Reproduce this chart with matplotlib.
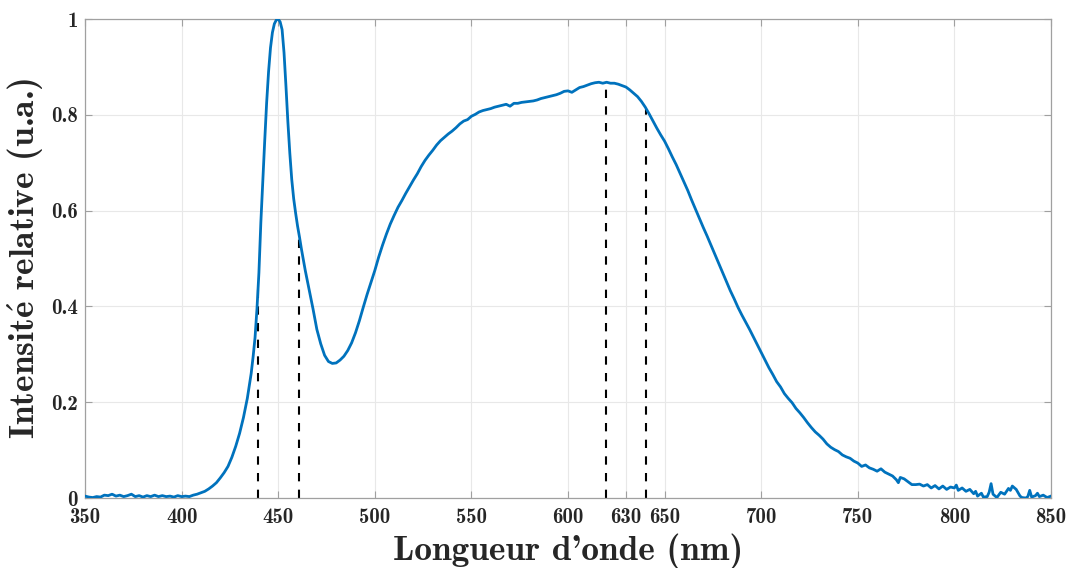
import numpy as np
import matplotlib
matplotlib.use("Agg")
import matplotlib.pyplot as plt

wavelength = [350, 352, 354, 356, 358, 360, 362, 364, 366, 368, 370, 372, 374, 376, 378, 380,
              382, 384, 386, 388, 390, 392, 394, 396, 398, 400, 402, 404, 406, 408, 410, 412,
              414, 416, 418, 420, 422, 424, 426, 428, 430, 432, 434, 436, 437, 438, 439, 440,
              441, 442, 443, 444, 445, 446, 447, 448, 449, 450, 451, 452, 453, 454, 455, 456,
              457, 458, 459, 460, 461, 462, 464, 466, 468, 470, 472, 474, 476, 478, 480, 482,
              484, 486, 488, 490, 492, 494, 496, 498, 500, 502, 504, 506, 508, 510, 512, 514,
              516, 518, 520, 522, 524, 526, 528, 530, 532, 534, 536, 538, 540, 542, 544, 546,
              548, 550, 552, 554, 556, 558, 560, 562, 564, 566, 568, 570, 572, 574, 576, 578,
              580, 582, 584, 586, 588, 590, 592, 594, 596, 598, 600, 602, 604, 606, 608, 610,
              612, 614, 616, 618, 620, 622, 624, 626, 628, 630, 632, 634, 636, 638, 640, 642,
              644, 646, 648, 650, 652, 654, 656, 658, 660, 662, 664, 666, 668, 670, 672, 674,
              676, 678, 680, 682, 684, 686, 688, 690, 692, 694, 696, 698, 700, 702, 704, 706,
              708, 710, 712, 714, 716, 718, 720, 722, 724, 726, 728, 730, 732, 734, 736, 738,
              740, 742, 744, 746, 748, 750, 752, 754, 756, 758, 760, 762, 764, 766, 768, 770,
              771, 772, 774, 776, 778, 780, 782, 784, 786, 788, 790, 792, 794, 796, 798, 800,
              801, 802, 804, 806, 808, 810, 811, 812, 814, 815, 817, 818, 819, 820, 822, 824,
              826, 828, 829, 830, 832, 834, 835, 837, 838, 839, 840, 842, 843, 844, 846, 848,
              850]

intensity = [0.004, 0.002, 0.001, 0.003, 0.002, 0.006, 0.005, 0.008, 0.004, 0.006, 0.003, 0.005,
             0.008, 0.003, 0.005, 0.002, 0.005, 0.003, 0.006, 0.003, 0.005, 0.003, 0.004, 0.002,
             0.005, 0.003, 0.004, 0.003, 0.006, 0.008, 0.011, 0.014, 0.019, 0.025, 0.032, 0.042,
             0.053, 0.066, 0.085, 0.108, 0.135, 0.168, 0.208, 0.260, 0.295, 0.335, 0.395, 0.470,
             0.575, 0.660, 0.745, 0.825, 0.890, 0.940, 0.972, 0.990, 0.998, 1.000, 0.994, 0.978,
             0.930, 0.860, 0.785, 0.720, 0.665, 0.625, 0.595, 0.568, 0.545, 0.520, 0.475, 0.435,
             0.395, 0.352, 0.322, 0.298, 0.285, 0.281, 0.282, 0.288, 0.296, 0.308, 0.324, 0.345,
             0.370, 0.398, 0.425, 0.450, 0.475, 0.503, 0.528, 0.551, 0.572, 0.590, 0.607, 0.621,
             0.636, 0.650, 0.664, 0.677, 0.692, 0.705, 0.716, 0.726, 0.737, 0.746, 0.753, 0.760,
             0.766, 0.773, 0.781, 0.787, 0.790, 0.797, 0.801, 0.806, 0.809, 0.811, 0.813, 0.816,
             0.818, 0.820, 0.822, 0.818, 0.824, 0.824, 0.826, 0.827, 0.828, 0.829, 0.831, 0.834,
             0.836, 0.838, 0.840, 0.842, 0.845, 0.849, 0.850, 0.847, 0.852, 0.857, 0.859, 0.862,
             0.865, 0.867, 0.868, 0.866, 0.868, 0.866, 0.866, 0.864, 0.861, 0.858, 0.852, 0.845,
             0.838, 0.828, 0.816, 0.802, 0.787, 0.772, 0.758, 0.745, 0.729, 0.712, 0.696, 0.678,
             0.660, 0.642, 0.622, 0.603, 0.584, 0.565, 0.547, 0.528, 0.509, 0.490, 0.471, 0.452,
             0.433, 0.416, 0.398, 0.382, 0.367, 0.352, 0.336, 0.320, 0.304, 0.288, 0.272, 0.258,
             0.243, 0.232, 0.218, 0.208, 0.199, 0.187, 0.178, 0.168, 0.157, 0.147, 0.138, 0.131,
             0.123, 0.113, 0.106, 0.101, 0.097, 0.090, 0.086, 0.083, 0.077, 0.073, 0.066, 0.069,
             0.063, 0.060, 0.056, 0.061, 0.054, 0.050, 0.046, 0.038, 0.032, 0.043, 0.040, 0.034,
             0.028, 0.028, 0.029, 0.025, 0.028, 0.021, 0.026, 0.019, 0.025, 0.018, 0.023, 0.021,
             0.027, 0.016, 0.021, 0.014, 0.018, 0.009, 0.014, 0.004, 0.010, 0.002, 0.003, 0.012,
             0.030, 0.008, 0.001, 0.012, 0.008, 0.020, 0.016, 0.025, 0.018, 0.004, 0.001, 0.000,
             0.003, 0.016, 0.002, 0.005, 0.010, 0.003, 0.006, 0.001, 0.004]

marker_wavelengths = [439.7, 460.8, 619.5, 640.4]

x_ticks = [350, 400, 450, 500, 550, 600, 630, 650, 700, 750, 800, 850]
y_ticks = [0, 0.2, 0.4, 0.6, 0.8, 1]
y_tick_labels = ["0", "0.2", "0.4", "0.6", "0.8", "1"]

plt.rcParams["mathtext.fontset"] = "cm"
plt.rcParams["axes.unicode_minus"] = False

fig = plt.figure(figsize=(10.71, 5.68), dpi=100)
ax = fig.add_axes([0.0794, 0.1232, 0.9019, 0.8433])

wl = np.array(wavelength)
it = np.array(intensity)
ax.plot(wl, it, color="#0072BD", lw=2.0, zorder=3)

for m in marker_wavelengths:
    top = np.interp(m, wl, it)
    ax.plot([m, m], [0, top], color="black", lw=1.5, ls=(0, (4, 4)), zorder=2)

ax.set_xlim(350, 850)
ax.set_ylim(0, 1)
ax.set_xticks(x_ticks)
ax.set_xticklabels([str(t) for t in x_ticks], fontfamily="cmb10")
ax.set_yticks(y_ticks)
ax.set_yticklabels(y_tick_labels, fontfamily="cmb10")

ax.grid(True, color="#e8e8e8", lw=0.8, zorder=0)
ax.set_axisbelow(True)
for s in ax.spines.values():
    s.set_color("#a0a0a0")
    s.set_linewidth(0.9)
ax.tick_params(axis="both", direction="in", length=5, width=0.8, color="#a0a0a0",
               labelsize=15, labelcolor="#262626", top=True, right=True)
ax.tick_params(axis="x", pad=7)
ax.tick_params(axis="y", pad=5)

ax.set_xlabel("Longueur d'onde (nm)", fontfamily="cmb10", fontsize=25.5, color="#262626", labelpad=5)
ax.set_ylabel(r"Intensit$\mathbf{\acute{e}}$ relative (u.a.)", fontfamily="cmb10", fontsize=25.5,
              color="#262626", labelpad=4)

fig.savefig("out.png", dpi=100)
